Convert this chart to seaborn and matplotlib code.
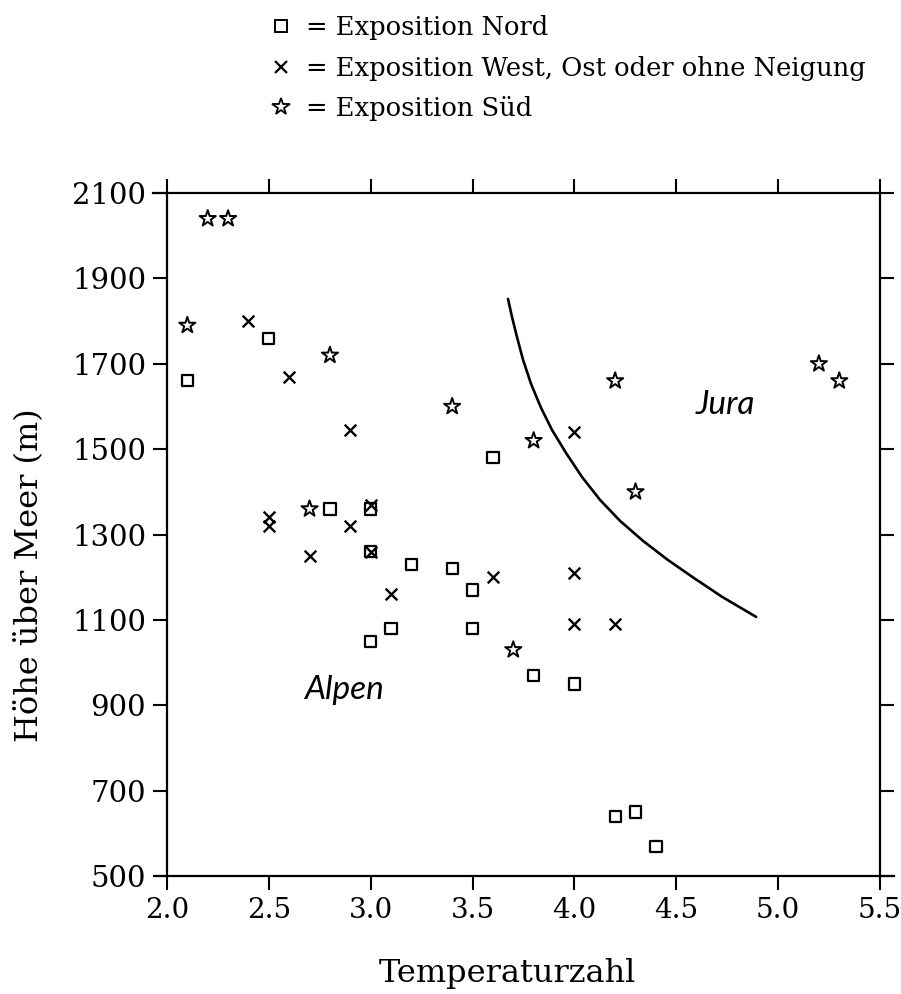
import matplotlib
matplotlib.use("Agg")
import matplotlib.pyplot as plt
from matplotlib.lines import Line2D
import seaborn as sns
import pandas as pd

# Exposition Nord (squares)
nord_x = [2.1, 2.5, 2.8, 3.0, 3.0, 3.2, 3.4, 3.5, 3.5, 3.1, 3.0, 3.6, 3.8, 4.0, 4.2, 4.3, 4.4]
nord_y = [1660, 1760, 1360, 1360, 1260, 1230, 1220, 1170, 1080, 1080, 1050, 1480, 970, 950, 640, 650, 570]

# Exposition West, Ost oder ohne Neigung (crosses)
west_x = [2.4, 2.6, 2.9, 2.5, 2.5, 2.7, 2.9, 3.0, 3.0, 3.1, 3.6, 4.0, 4.0, 4.0, 4.2]
west_y = [1800, 1670, 1545, 1340, 1320, 1250, 1320, 1370, 1260, 1160, 1200, 1540, 1210, 1090, 1090]

# Exposition Süd (stars)
sued_x = [2.2, 2.3, 2.1, 2.8, 3.4, 3.8, 4.2, 4.3, 5.2, 5.3, 2.7, 3.7]
sued_y = [2040, 2040, 1790, 1720, 1600, 1520, 1660, 1400, 1700, 1660, 1360, 1030]

# Boundary between the Alpen and Jura groups
curve_x = [3.674, 3.694, 3.718, 3.748, 3.787, 3.836, 3.890, 3.959,
           4.037, 4.126, 4.224, 4.337, 4.460, 4.587, 4.725, 4.892]
curve_y = [1852, 1809, 1763, 1709, 1653, 1597, 1545, 1491,
           1435, 1381, 1332, 1285, 1240, 1198, 1154, 1107]

x_ticks = [2.0, 2.5, 3.0, 3.5, 4.0, 4.5, 5.0, 5.5]
y_ticks = [500, 700, 900, 1100, 1300, 1500, 1700, 1900, 2100]

legend_labels = ["= Exposition Nord",
                 "= Exposition West, Ost oder ohne Neigung",
                 "= Exposition Süd"]

sns.set_style("ticks")
plt.rcParams["font.family"] = ["DejaVu Serif"]
plt.rcParams["text.color"] = "black"
plt.rcParams["axes.labelcolor"] = "black"

fig = plt.figure(figsize=(9.01, 9.94), dpi=100)
ax = fig.add_axes([0.1853, 0.1187, 0.7914, 0.6871])

nord = pd.DataFrame({"t": nord_x, "h": nord_y})
west = pd.DataFrame({"t": west_x, "h": west_y})
sued = pd.DataFrame({"t": sued_x, "h": sued_y})
curve = pd.DataFrame({"t": curve_x, "h": curve_y})

sns.scatterplot(data=nord, x="t", y="h", ax=ax, marker="s", s=65,
                facecolor="none", edgecolor="black", linewidth=1.6, zorder=3)
sns.scatterplot(data=west, x="t", y="h", ax=ax, marker="x", s=70,
                color="black", linewidth=1.7, zorder=3)
sns.scatterplot(data=sued, x="t", y="h", ax=ax, marker="*", s=150,
                facecolor="none", edgecolor="black", linewidth=1.4, zorder=3)
sns.lineplot(data=curve, x="t", y="h", ax=ax, color="black", lw=1.9,
             sort=False, estimator=None)

ax.set_xlim(2.0, 5.5)
ax.set_ylim(500, 2100)
ax.set_xticks(x_ticks)
ax.set_xticklabels([f"{v:.1f}" for v in x_ticks])
ax.set_yticks(y_ticks)
ax.set_yticklabels([str(v) for v in y_ticks])
ax.tick_params(axis="both", which="major", direction="out", length=10, width=1.5,
               top=True, right=True, color="black", labelcolor="black", pad=5)
ax.tick_params(axis="y", labelsize=21)
ax.tick_params(axis="x", labelsize=20)

for side in ["left", "right", "top", "bottom"]:
    ax.spines[side].set_visible(True)
    ax.spines[side].set_linewidth(1.6)
    ax.spines[side].set_color("black")
ax.spines["top"].set_bounds(1.93, 5.5)
ax.spines["bottom"].set_bounds(1.95, 5.57)

ax.set_xlabel("Temperaturzahl", fontsize=23, color="black")
ax.xaxis.set_label_coords(0.477, -0.12)
ax.set_ylabel("Höhe über Meer (m)", fontsize=23, color="black")
ax.yaxis.set_label_coords(-0.172, 0.44)

hand = dict(family=["Lato", "DejaVu Sans"], style="italic", fontsize=24,
            fontweight="normal", color="black")
ax.text(2.87, 936, "Alpen", ha="center", va="center", **hand)
ax.text(4.74, 1603, "Jura", ha="center", va="center", **hand)

handles = [
    Line2D([], [], marker="s", ls="none", mfc="none", mec="black", ms=8.5, mew=1.4),
    Line2D([], [], marker="x", ls="none", color="black", ms=8.5, mew=1.6),
    Line2D([], [], marker="*", ls="none", mfc="none", mec="black", ms=13, mew=1.3),
]
fig.legend(handles, legend_labels, loc="upper left", bbox_to_anchor=(0.28, 1.0),
           frameon=False, fontsize=18.5, handlelength=1.0, handletextpad=0.5,
           labelspacing=0.6, borderaxespad=0.2, labelcolor="black")

fig.savefig("out.png", dpi=100, facecolor="white")
